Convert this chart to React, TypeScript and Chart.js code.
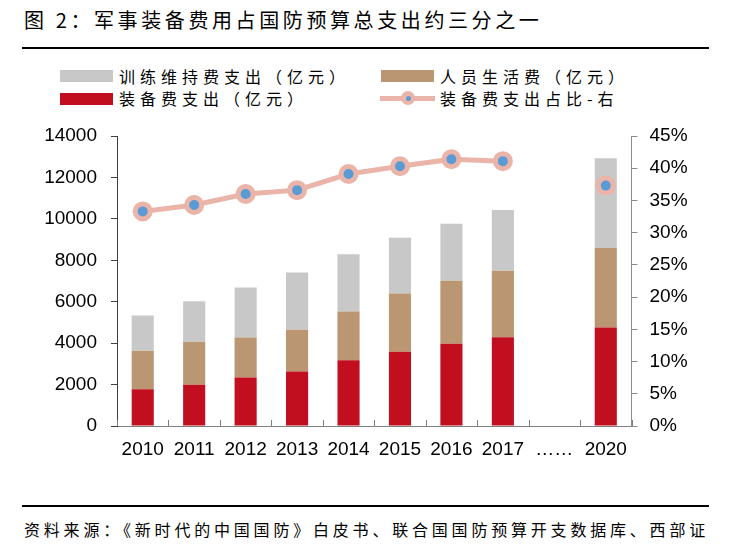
import React, { useEffect, useRef } from 'react';
import { Chart, registerables } from 'chart.js';

Chart.register(...registerables);

// ---- Data ----
const categories = ['2010', '2011', '2012', '2013', '2014', '2015', '2016', '2017', '……', '2020'];
const equipment = [1774, 1990, 2340, 2630, 3180, 3580, 3970, 4288, null, 4750];
const personnel = [1859, 2080, 1935, 2015, 2350, 2820, 3045, 3211, null, 3840];
const training = [1700, 1958, 2417, 2766, 2760, 2688, 2751, 2933, null, 4340];
const equipmentShare = [33.3, 34.3, 36.0, 36.6, 39.1, 40.3, 41.4, 41.1, null, 37.3];

const leftMin = 0;
const leftMax = 14000;
const leftStep = 2000;
const rightMin = 0;
const rightMax = 45;
const rightStep = 5;

const titleText = '图 2：军事装备费用占国防预算总支出约三分之一';
const sourceText = '资料来源：《新时代的中国国防》白皮书、联合国国防预算开支数据库、西部证';
const legendTraining = '训练维持费支出（亿元）';
const legendPersonnel = '人员生活费（亿元）';
const legendEquipment = '装备费支出（亿元）';
const legendShare = '装备费支出占比-右';

const C_GRAY = '#C8C8C8';
const C_BROWN = '#BA9672';
const C_RED = '#C20F1F';
const C_PINK = '#EBB4A8';
const C_BLUE = '#5B9BD5';

const CJK = "'Noto Sans CJK SC', 'Noto Sans', sans-serif";
const LATIN = "'Liberation Sans', Arial, sans-serif";

const innerTicks = {
  id: 'innerTicks',
  afterDatasetsDraw(chart: any) {
    const x = chart.scales.x;
    const ctx = chart.ctx;
    const n = x.ticks.length;
    const half = (x.getPixelForValue(1) - x.getPixelForValue(0)) / 2;
    const bottom = chart.chartArea.bottom;
    ctx.save();
    ctx.strokeStyle = '#7f7f7f';
    ctx.lineWidth = 1;
    ctx.beginPath();
    for (let i = 0; i <= n; i++) {
      const px = i < n ? x.getPixelForValue(i) - half : x.getPixelForValue(n - 1) + half;
      const rx = Math.round(px) + 0.5;
      ctx.moveTo(rx, bottom);
      ctx.lineTo(rx, bottom - 6);
    }
    ctx.stroke();
    ctx.restore();
  },
};

function ChartCanvas() {
  const ref = useRef<HTMLCanvasElement | null>(null);
  useEffect(() => {
    if (!ref.current) return;
    const chart = new Chart(ref.current, {
      type: 'bar',
      data: {
        labels: categories,
        datasets: [
          {
            type: 'line',
            label: legendShare,
            data: equipmentShare,
            yAxisID: 'y1',
            borderColor: C_PINK,
            borderWidth: 5,
            pointRadius: 7.5,
            pointBorderWidth: 5,
            pointBackgroundColor: C_BLUE,
            pointBorderColor: C_PINK,
            spanGaps: false,
            tension: 0,
            order: 0,
          } as any,
          {
            type: 'bar',
            label: legendEquipment,
            data: equipment,
            backgroundColor: C_RED,
            yAxisID: 'y',
            stack: 's',
            order: 1,
          },
          {
            type: 'bar',
            label: legendPersonnel,
            data: personnel,
            backgroundColor: C_BROWN,
            yAxisID: 'y',
            stack: 's',
            order: 1,
          },
          {
            type: 'bar',
            label: legendTraining,
            data: training,
            backgroundColor: C_GRAY,
            yAxisID: 'y',
            stack: 's',
            order: 1,
          },
        ],
      },
      options: {
        animation: false,
        responsive: false,
        maintainAspectRatio: false,
        devicePixelRatio: 1,
        layout: { padding: { left: 0, right: 0, top: 16, bottom: 0 } },
        datasets: {
          bar: { barPercentage: 0.43, categoryPercentage: 1 },
        },
        plugins: {
          legend: { display: false },
          tooltip: { enabled: false },
          title: { display: false },
        },
        scales: {
          x: {
            type: 'category',
            stacked: true,
            offset: true,
            grid: { display: false, drawTicks: false },
            border: { display: true, color: '#7f7f7f', width: 1 },
            ticks: {
              color: '#000',
              font: { family: LATIN, size: 19 },
              padding: 12,
              maxRotation: 0,
              autoSkip: false,
            },
            afterFit(scale: any) {
              scale.height = 54;
            },
          },
          y: {
            type: 'linear',
            position: 'left',
            stacked: true,
            min: leftMin,
            max: leftMax,
            grid: {
              display: true,
              drawOnChartArea: false,
              drawTicks: true,
              tickLength: 6,
              color: '#404040',
            },
            border: { display: true, color: '#404040', width: 1 },
            ticks: {
              stepSize: leftStep,
              color: '#000',
              font: { family: LATIN, size: 19 },
              padding: 14,
              callback: (v: any) => String(v),
            },
            afterFit(scale: any) {
              scale.width = 117;
              scale.paddingTop = 0;
              scale.paddingBottom = 0;
            },
          },
          y1: {
            type: 'linear',
            position: 'right',
            min: rightMin,
            max: rightMax,
            grid: {
              display: true,
              drawOnChartArea: false,
              drawTicks: true,
              tickLength: 6,
              color: '#8c8c8c',
            },
            border: { display: true, color: '#8c8c8c', width: 1 },
            ticks: {
              stepSize: rightStep,
              color: '#000',
              font: { family: LATIN, size: 19 },
              padding: 12,
              callback: (v: any) => `${v}%`,
            },
            afterFit(scale: any) {
              scale.width = 110.5;
              scale.paddingTop = 0;
              scale.paddingBottom = 0;
            },
          },
        },
      } as any,
      plugins: [innerTicks],
    });
    return () => chart.destroy();
  }, []);
  return <canvas ref={ref} width={742} height={360} style={{ width: 742, height: 360, display: 'block' }} />;
}

const textStyle: React.CSSProperties = {
  position: 'absolute',
  fontFamily: CJK,
  fontSize: 16,
  lineHeight: '20px',
  letterSpacing: '5px',
  whiteSpace: 'nowrap',
  color: '#000',
};

export default function App() {
  return (
    <div
      style={{
        position: 'fixed',
        left: 0,
        top: 0,
        width: 742,
        height: 556,
        background: '#fff',
        overflow: 'hidden',
      }}
    >
      <div
        style={{
          position: 'absolute',
          left: 24,
          top: 6,
          fontFamily: CJK,
          fontSize: 20,
          lineHeight: '28px',
          letterSpacing: '3.6px',
          whiteSpace: 'nowrap',
          color: '#000',
        }}
      >
        {titleText}
      </div>
      <div style={{ position: 'absolute', left: 22, top: 47, width: 687, height: 2, background: '#000' }} />

      {/* Legend */}
      <div style={{ position: 'absolute', left: 60, top: 70, width: 53, height: 12, background: C_GRAY }} />
      <div style={{ ...textStyle, left: 119, top: 66 }}>{legendTraining}</div>
      <div style={{ position: 'absolute', left: 381, top: 70, width: 53, height: 12, background: C_BROWN }} />
      <div style={{ ...textStyle, left: 440, top: 66 }}>{legendPersonnel}</div>
      <div style={{ position: 'absolute', left: 60, top: 93, width: 53, height: 12, background: C_RED }} />
      <div style={{ ...textStyle, left: 119, top: 88 }}>{legendEquipment}</div>
      <div style={{ position: 'absolute', left: 380, top: 95.5, width: 55, height: 5, background: C_PINK }} />
      <div
        style={{
          position: 'absolute',
          left: 401,
          top: 91,
          width: 14,
          height: 14,
          borderRadius: '50%',
          background: C_PINK,
        }}
      />
      <div
        style={{
          position: 'absolute',
          left: 405.5,
          top: 95.5,
          width: 5,
          height: 5,
          borderRadius: '50%',
          background: C_BLUE,
        }}
      />
      <div style={{ ...textStyle, left: 440, top: 88 }}>{legendShare}</div>

      <div style={{ position: 'absolute', left: 0, top: 120, width: 742, height: 360 }}>
        <ChartCanvas />
      </div>

      <div style={{ position: 'absolute', left: 22, top: 505, width: 687, height: 2, background: '#000' }} />
      <div style={{ ...textStyle, left: 24, top: 519, letterSpacing: '3.8px' }}>{sourceText}</div>
    </div>
  );
}
